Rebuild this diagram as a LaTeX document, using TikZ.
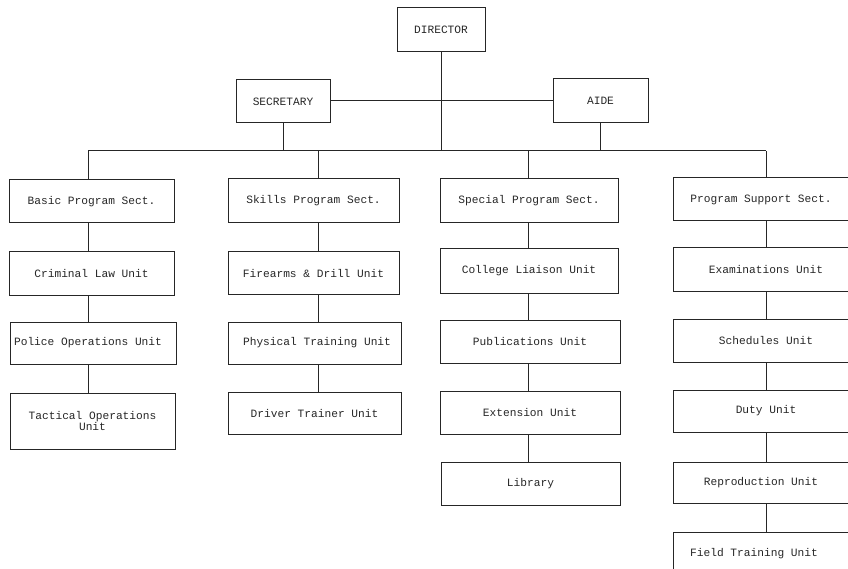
\documentclass[tikz,border=0pt]{standalone}
\usepackage{fontspec}
\setmainfont{Liberation Mono}
\begin{document}
\begin{tikzpicture}[x=1pt,y=-1pt,
  box/.style={draw=black!85, line width=1pt, inner sep=0pt, align=center,
    text=black!85, font=\fontsize{11.2}{11.5}\selectfont},
  link/.style={draw=black!85, line width=1pt}]
\useasboundingbox (0,0) rectangle (848,569);
\clip (0,0) rectangle (848,569);
% top
\node[box, minimum width=88pt, minimum height=44pt] (dir) at (441,30) {DIRECTOR};
\node[box, minimum width=94pt, minimum height=43pt] (sec) at (283,101.5) {SECRETARY};
\node[box, minimum width=95pt, minimum height=44pt] (aide) at (600.5,101) {AIDE};
\coordinate (busL) at (88,151);
\coordinate (busR) at (766,151);
% column line positions
\coordinate (c1) at (88,0);
\coordinate (c2) at (318,0);
\coordinate (c3) at (528,0);
\coordinate (c4) at (766,0);
\coordinate (ca) at (600,0);
% column 1
\node[box, minimum width=165pt, minimum height=43pt] (basic) at (91.5,201.5) {Basic Program Sect.};
\node[box, minimum width=165pt, minimum height=43pt] (crim) at (91.5,273.5) {Criminal Law Unit};
\node[box, minimum width=166pt, minimum height=42pt] (police) at (93,343) {Police Operations Unit\hspace*{10pt}};
\node[box, minimum width=165pt, minimum height=56pt] (tact) at (92.5,421) {Tactical Operations\\Unit};
% column 2
\node[box, minimum width=171pt, minimum height=44pt] (skills) at (313.5,201) {Skills Program Sect.};
\node[box, minimum width=171pt, minimum height=42pt] (fire) at (313.5,273) {Firearms \& Drill Unit};
\node[box, minimum width=173pt, minimum height=42pt] (phys) at (314.5,343) {\hspace*{5pt}Physical Training Unit};
\node[box, minimum width=173pt, minimum height=42pt] (driver) at (314.5,413) {Driver Trainer Unit};
% column 3
\node[box, minimum width=178pt, minimum height=44pt] (special) at (529,201) {Special Program Sect.};
\node[box, minimum width=178pt, minimum height=44pt] (college) at (529,271) {College Liaison Unit};
\node[box, minimum width=180pt, minimum height=43pt] (pub) at (530,341.5) {Publications Unit};
\node[box, minimum width=180pt, minimum height=43pt] (ext) at (530,412.5) {Extension Unit};
\node[box, minimum width=179pt, minimum height=43pt] (lib) at (530.5,483.5) {Library};
% column 4
\node[box, minimum width=186pt, minimum height=43pt] (support) at (766,199.5) {Program Support Sect.\hspace*{10pt}};
\node[box, minimum width=186pt, minimum height=43pt] (exam) at (766,269.5) {Examinations Unit};
\node[box, minimum width=186pt, minimum height=43pt] (sched) at (766,340.5) {Schedules Unit};
\node[box, minimum width=186pt, minimum height=42pt] (duty) at (766,411) {Duty Unit};
\node[box, minimum width=186pt, minimum height=41pt] (repro) at (766,482.5) {Reproduction Unit\hspace*{10pt}};
\node[box, minimum width=186pt, minimum height=43pt] (field) at (766,553.5) {Field Training Unit\hspace*{24pt}};
% connectors
\draw[link] (dir.south) -- (dir.south |- busL);
\draw[link] (aide.west -| sec.east) -- (aide.west);
\draw[link] (sec.south) -- (sec.south |- busL);
\draw[link] (aide.south -| ca) -- (busL -| ca);
\draw[link] (busL) -- (busR);
\draw[link] (basic.north -| c1) -- (busL);
\draw[link] (skills.north -| c2) -- (busL -| c2);
\draw[link] (special.north -| c3) -- (busL -| c3);
\draw[link] (support.north) -- (busR);
\draw[link] (basic.south -| c1) -- (crim.north -| c1);
\draw[link] (crim.south -| c1) -- (police.north -| c1);
\draw[link] (police.south -| c1) -- (tact.north -| c1);
\draw[link] (skills.south -| c2) -- (fire.north -| c2);
\draw[link] (fire.south -| c2) -- (phys.north -| c2);
\draw[link] (phys.south -| c2) -- (driver.north -| c2);
\draw[link] (special.south -| c3) -- (college.north -| c3);
\draw[link] (college.south -| c3) -- (pub.north -| c3);
\draw[link] (pub.south -| c3) -- (ext.north -| c3);
\draw[link] (ext.south -| c3) -- (lib.north -| c3);
\draw[link] (support) -- (exam);
\draw[link] (exam) -- (sched);
\draw[link] (sched) -- (duty);
\draw[link] (duty) -- (repro);
\draw[link] (repro) -- (field);
\end{tikzpicture}
\end{document}
